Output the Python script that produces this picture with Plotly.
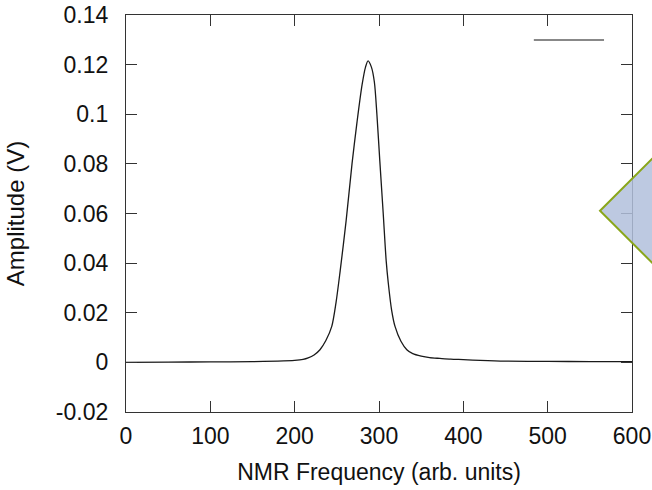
import plotly.graph_objects as go

# NMR absorption signal
freq = [0, 50, 100, 150, 180, 200, 210, 216, 223, 230, 237, 244, 249, 254, 261,
        268, 274, 280, 284, 287, 291, 294.5, 297.5, 301, 305, 308.5, 311, 315,
        319, 326, 333, 340, 350, 360, 372, 385, 400, 420, 450, 500, 550, 600]
amplitude = [0.0, 0.0001, 0.0002, 0.0003, 0.0005, 0.0008, 0.0012, 0.0018, 0.003,
             0.0051, 0.0088, 0.0145, 0.024, 0.037, 0.057, 0.080, 0.097, 0.112,
             0.119, 0.1215, 0.119, 0.113, 0.100, 0.081, 0.060, 0.041, 0.032,
             0.021, 0.0145, 0.0085, 0.0051, 0.0035, 0.0025, 0.0019, 0.0016,
             0.0013, 0.0011, 0.0008, 0.0005, 0.0004, 0.0003, 0.0003]

x_ticks = [0, 100, 200, 300, 400, 500, 600]
x_tick_labels = ["0", "100", "200", "300", "400", "500", "600"]
y_ticks = [-0.02, 0, 0.02, 0.04, 0.06, 0.08, 0.1, 0.12, 0.14]
y_tick_labels = ["-0.02", "0", "0.02", "0.04", "0.06", "0.08", "0.1", "0.12", "0.14"]

FONT = "Liberation Sans, Arial, sans-serif"

fig = go.Figure()
fig.add_trace(go.Scatter(
    x=freq, y=amplitude, mode="lines",
    line=dict(color="#1a1a1a", width=1.3, shape="spline", smoothing=0.8),
    showlegend=False, hoverinfo="skip",
))

axis_common = dict(
    showgrid=False, zeroline=False, showline=True, linecolor="#333333",
    linewidth=1.3, mirror="allticks", ticks="inside", ticklen=11,
    tickwidth=1.2, tickcolor="#333333", automargin=False,
    tickfont=dict(family=FONT, size=23, color="#111111"),
)

fig.update_xaxes(
    range=[0, 600], tickvals=x_ticks, ticktext=x_tick_labels,
    ticklabelstandoff=3,
    title=dict(text="NMR Frequency (arb. units)", standoff=16,
               font=dict(family=FONT, size=23, color="#111111")),
    **axis_common,
)
fig.update_yaxes(
    range=[-0.02, 0.14], tickvals=y_ticks, ticktext=y_tick_labels,
    ticklabelstandoff=12,
    title=dict(text="Amplitude (V)", standoff=24,
               font=dict(family=FONT, size=24, color="#111111")),
    **axis_common,
)

# legend key line (no label) at the top right
fig.add_shape(type="line", xref="paper", yref="paper",
              x0=0.806, x1=0.9447, y0=0.937, y1=0.937,
              line=dict(color="#888888", width=2))

# callout bubble partially visible at the right edge
fig.add_shape(type="path", xref="paper", yref="paper", layer="above",
              path="M 0.9368 0.507 L 1.174 0.809 L 1.41 0.507 L 1.174 0.205 Z",
              fillcolor="rgba(178,192,220,0.85)",
              line=dict(color="#8aa61a", width=2))

fig.update_layout(
    width=652, height=490,
    margin=dict(l=126, r=20, t=15, b=78),
    paper_bgcolor="white", plot_bgcolor="white",
    font=dict(family=FONT, color="#111111"),
)

fig.write_html("out.html")
